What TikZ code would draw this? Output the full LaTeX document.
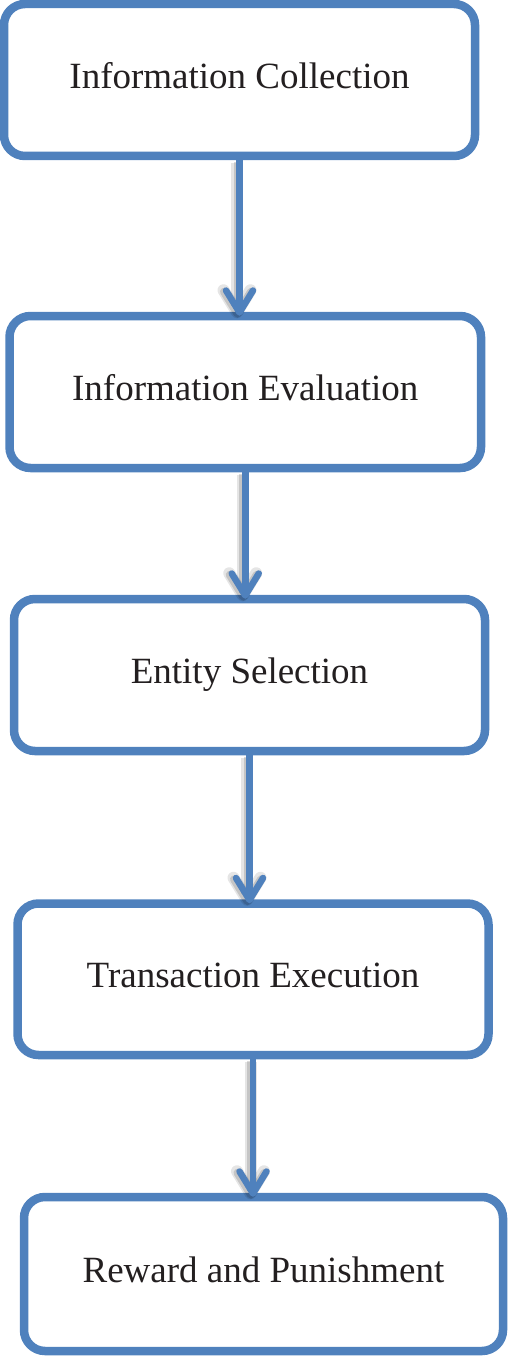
\documentclass[tikz,border=0pt]{standalone}
\usepackage{fontspec}
\setmainfont{Liberation Serif}
\usetikzlibrary{arrows.meta}
\definecolor{boxblue}{HTML}{4F81BD}
\definecolor{txt}{HTML}{231F20}
\tikzset{
  stepbox/.style={draw=boxblue, line width=8.5pt, rounded corners=21pt, fill=white,
    inner sep=0pt, text height=25pt, text depth=8pt, text=txt,
    font=\fontsize{37pt}{44pt}\selectfont},
  flowarrow/.style={draw=boxblue, line width=6.5pt, line cap=round,
    -{Straight Barb[length=22pt, width=27pt, round]},
    preaction={draw=black, opacity=0.10, line width=12pt, transform canvas={shift={(-2.5pt,-2.5pt)}}},
    preaction={draw=black, opacity=0.14, line width=8pt, transform canvas={shift={(-2pt,-2pt)}}}}
}
\begin{document}
\begin{tikzpicture}[x=1pt, y=-1pt]
\useasboundingbox (0,0) rectangle (508,1356);
\node[stepbox, minimum width=471pt, minimum height=152pt] (b1) at (239.5,80) {Information Collection};
\node[stepbox, minimum width=471.5pt, minimum height=152pt] (b2) at (245.25,392) {Information Evaluation};
\node[stepbox, minimum width=471pt, minimum height=152pt] (b3) at (249.5,675) {Entity Selection};
\node[stepbox, minimum width=471pt, minimum height=151.5pt] (b4) at (253,979.25) {Transaction Execution};
\node[stepbox, minimum width=479pt, minimum height=154pt] (b5) at (263.5,1274) {Reward and Punishment};
\draw[flowarrow] (b1.south) -- ([yshift=-4pt]b1.south |- b2.north);
\draw[flowarrow] (b2.south) -- ([yshift=-4pt]b2.south |- b3.north);
\draw[flowarrow] (b3.south) -- ([yshift=-4pt]b3.south |- b4.north);
\draw[flowarrow] (b4.south) -- ([yshift=-4pt]b4.south |- b5.north);
\end{tikzpicture}
\end{document}
